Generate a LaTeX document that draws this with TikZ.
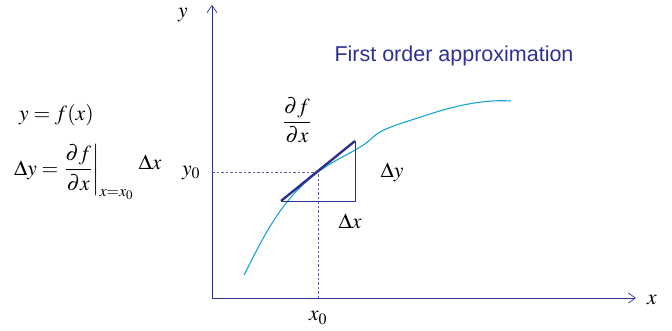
\documentclass[tikz,border=0pt]{standalone}
\usepackage{amsmath}
\usepackage{mathptmx}
\usepackage{fontspec}
\setsansfont{Liberation Sans}
\usetikzlibrary{arrows.meta}
\definecolor{navy}{HTML}{2E3192}
\definecolor{curvec}{HTML}{1BA3D3}
\definecolor{dashc}{HTML}{5A5AA8}
\tikzset{
  axis/.style={navy, line width=0.9pt, -{Straight Barb[length=7pt,width=10pt,line width=0.7pt]}},
  lbl/.style={inner sep=0pt, font=\fontsize{21.5}{25}\selectfont},
  guide/.style={dashc, line width=0.8pt, dash pattern=on 2.5pt off 2pt},
}
\begin{document}
\begin{tikzpicture}[x=1pt,y=-1pt]
\useasboundingbox (0,0) rectangle (672,330);
% axes
\coordinate (O) at (212,298);
\coordinate (Ytip) at (212,5);
\coordinate (Xtip) at (636,298);
\draw[axis] (O) -- (Ytip);
\draw[axis] (O) -- (Xtip);
\node[lbl] (ylab) at (183,15) {$y$};
\node[lbl] (xlab) at (652,300) {$x$};
% guide lines
\coordinate (P) at (318,172);
\coordinate (Py) at (212,172);
\coordinate (Px) at (318,298);
\draw[guide] (Py) -- (P) -- (Px);
\node[lbl] (y0) at (191,173) {$y_0$};
\node[lbl] (x0) at (318,318) {$x_0$};
% curve
\draw[curvec, line width=1.1pt] (244,275) .. controls (262,240) and (280,200) .. (318,172)
  .. controls (340,156) and (360,150) .. (372,138)
  .. controls (382,128) and (400,124) .. (430,114)
  .. controls (470,101) and (495,100) .. (511,101);
% triangle
\coordinate (A) at (281,201);
\coordinate (B) at (355,201);
\coordinate (C) at (355,141);
\draw[navy, line width=0.7pt] (A) -- (B) -- (C);
\draw[navy, line width=2.4pt] (A) -- (C);
\node[lbl] (dfdx) at (297,120) {$\dfrac{\partial f}{\partial x}$};
\node[lbl] (dy) at (392,172) {$\Delta y$};
\node[lbl] (dx) at (350,221) {$\Delta x$};
% title
\node[inner sep=0pt, text=navy, font=\sffamily\fontsize{21.5}{25}\selectfont] (title) at (454,56) {First order approximation};
% equations
\node[lbl, anchor=west] (eq1) at (19,115) {$y=f(x)$};
\node[lbl, anchor=west] (eq2) at (14,172) {$\Delta y=\left.\dfrac{\partial f}{\partial x}\right|_{x=x_0}$};
\node[lbl] (eqdx) at (150,162) {$\Delta x$};
\end{tikzpicture}
\end{document}
